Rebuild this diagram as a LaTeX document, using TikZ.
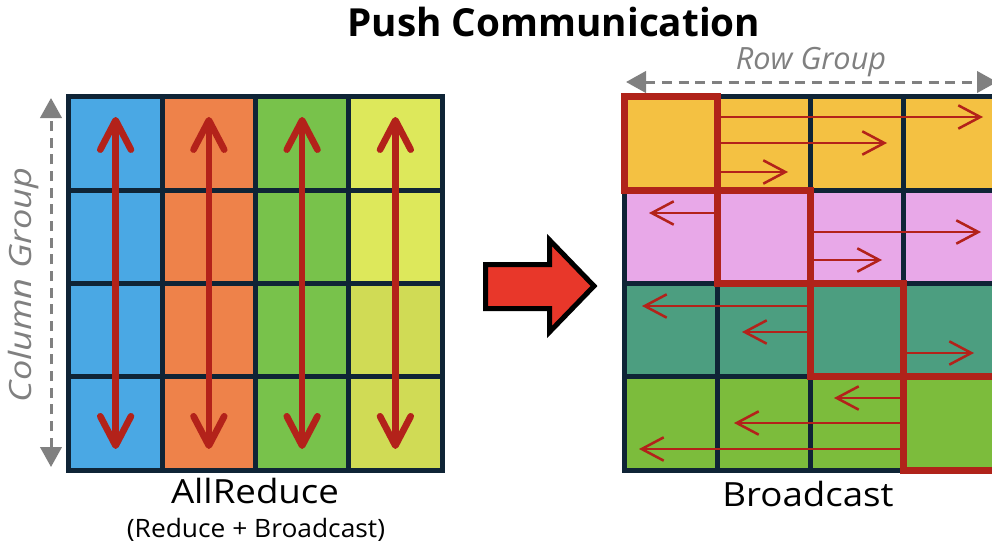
\documentclass[tikz,border=0pt]{standalone}
\usepackage{fontspec}
\setmainfont{Open Sans}
\usetikzlibrary{arrows.meta,calc}

% palette
\definecolor{gridline}{HTML}{0F2436}
\definecolor{cblue}{HTML}{4AA8E4}
\definecolor{corange}{HTML}{EE824A}
\definecolor{cgreen}{HTML}{78C24B}
\definecolor{cyellow}{HTML}{DDE85B}
\definecolor{cyellowdk}{HTML}{D0DB55}
\definecolor{rowA}{HTML}{F4C142}
\definecolor{rowB}{HTML}{E8A8E8}
\definecolor{rowC}{HTML}{4C9E80}
\definecolor{rowD}{HTML}{7CBC3C}
\definecolor{arrowred}{HTML}{B3221A}
\definecolor{boxred}{HTML}{B0231A}
\definecolor{bigred}{HTML}{E8372A}
\definecolor{groupgray}{HTML}{808080}

% wide set text
\newcommand{\widetext}[2]{\scalebox{#1}[1]{#2}}

\begin{document}
\begin{tikzpicture}[x=0.75pt,y=-0.75pt,
  cell/.style={draw=gridline, line width=3.75pt, minimum width=69.97pt,
    minimum height=69.94pt, inner sep=0pt, outer sep=0pt},
  sync/.style={draw=arrowred, line width=5pt,
    {Straight Barb[length=22pt,width=23pt,round]}-{Straight Barb[length=22pt,width=23pt,round]}},
  push/.style={draw=arrowred, line width=1.9pt,
    -{Straight Barb[length=16.5pt,width=17.5pt]}},
  owner/.style={draw=boxred, line width=5.25pt, line join=miter},
  group/.style={draw=groupgray, line width=2.25pt, dash pattern=on 7.5pt off 5pt,
    {Triangle[length=15pt,width=16pt]}-{Triangle[length=15pt,width=16pt]}},
  grouplabel/.style={text=groupgray, font=\itshape\fontsize{23}{27}\selectfont, inner sep=0pt},
  caption/.style={font=\fontsize{25}{29}\selectfont, inner sep=0pt}]

\useasboundingbox (0,0) rectangle (992,546);
\clip (0,0) rectangle (992,546);

% title
\node[font=\bfseries\fontsize{29}{34}\selectfont, inner sep=0pt] (title) at (554,22) {Push Communication};

% ---------- AllReduce grid (columns share a colour) ----------
\foreach \r in {1,...,4}{
  \foreach \c/\fc in {1/cblue,2/corange,3/cgreen}{
    \node[cell, fill=\fc] (L-\r-\c) at ({69+(\c-0.5)*93.25},{97+(\r-0.5)*93.25}) {};
  }
}
\foreach \r/\fc in {1/cyellow,2/cyellow,3/cyellowdk,4/cyellowdk}{
  \node[cell, fill=\fc] (L-\r-4) at ({69+3.5*93.25},{97+(\r-0.5)*93.25}) {};
}
% column-wise allreduce arrows
\foreach \c in {1,...,4}{
  \draw[sync, shorten <=-20pt, shorten >=-19.2pt] (L-1-\c.center) -- (L-4-\c.center);
}

% column group marker
\coordinate (cg-top) at (51,98);
\coordinate (cg-bot) at (51,467);
\draw[group] (cg-bot) -- (cg-top);
\node[grouplabel, rotate=90] (cg-label) at (24,285) {\widetext{1.18}{Column Group}};

% captions under the left grid
\node[caption] (allreduce) at (255,491) {\widetext{1.1}{AllReduce}};
\node[font=\fontsize{19}{23}\selectfont, inner sep=0pt] (allreduce-sub) at (256,530) {\widetext{1.04}{(Reduce + Broadcast)}};

% ---------- transition arrow ----------
\draw[fill=bigred, draw=black, line width=3.75pt, line join=miter]
  (485.5,264.5) -- (549.5,264.5) -- (549.5,240) -- (594,286)
  -- (549.5,332) -- (549.5,308.5) -- (485.5,308.5) -- cycle;

% ---------- Broadcast grid (rows share a colour) ----------
\foreach \r/\fc in {1/rowA,2/rowB,3/rowC,4/rowD}{
  \foreach \c in {1,...,4}{
    \node[cell, fill=\fc] (R-\r-\c) at ({624+(\c-0.5)*93.3},{97+(\r-0.5)*93.25}) {};
  }
}

% broadcast targets
\coordinate (t11) at (983,117);
\coordinate (t12) at (887,143);
\coordinate (t13) at (788,172);
\coordinate (t21) at (649,213);
\coordinate (t22) at (981,232);
\coordinate (t23) at (882,260);
\coordinate (t31) at (642,306);
\coordinate (t32) at (742,332);
\coordinate (t33) at (974,353);
\coordinate (t41) at (834,398);
\coordinate (t42) at (734,423);
\coordinate (t43) at (639,449);

\foreach \t in {t11,t12,t13}{ \draw[push] (R-1-1.east |- \t) -- (\t); }
\draw[push] (R-2-2.west |- t21) -- (t21);
\foreach \t in {t22,t23}{ \draw[push] (R-2-2.east |- \t) -- (\t); }
\foreach \t in {t31,t32}{ \draw[push] (R-3-3.west |- \t) -- (\t); }
\draw[push] (R-3-3.east |- t33) -- (t33);
\foreach \t in {t41,t42,t43}{ \draw[push] (R-4-4.west |- \t) -- (\t); }

% owner blocks on the diagonal
\foreach \k in {1,...,4}{
  \draw[owner] (R-\k-\k.north west) rectangle (R-\k-\k.south east);
}

% row group marker
\coordinate (rg-left) at (626,82);
\coordinate (rg-right) at (997,82);
\draw[group] (rg-left) -- (rg-right);
\node[grouplabel] (rg-label) at (811,62) {Row Group};

\node[caption] (broadcast) at (808,494) {\widetext{1.1}{Broadcast}};
\end{tikzpicture}
\end{document}
